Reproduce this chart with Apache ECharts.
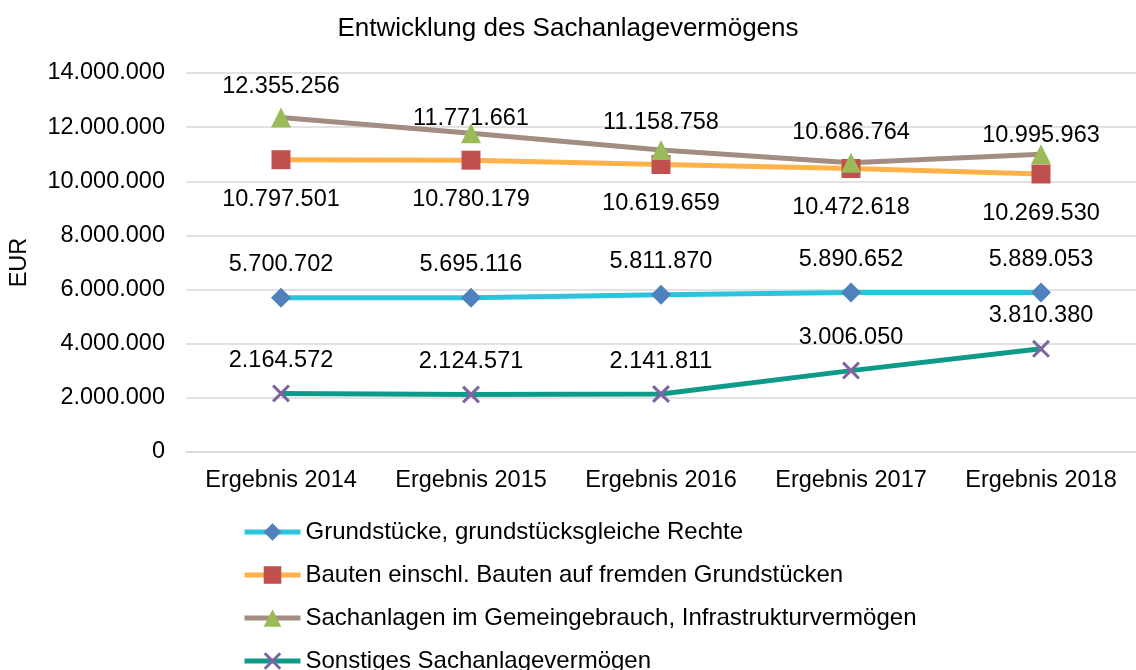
<!DOCTYPE html>
<html>
<head>
<meta charset="utf-8">
<script src="https://cdn.jsdelivr.net/npm/echarts@6/dist/echarts.min.js"></script>
<style>
  html, body { margin: 0; padding: 0; background: #fff; }
  #chart { width: 1136px; height: 670px; }
</style>
</head>
<body>
<div id="chart"></div>
<script>
  const categories = ['Ergebnis 2014', 'Ergebnis 2015', 'Ergebnis 2016', 'Ergebnis 2017', 'Ergebnis 2018']
  const grundstuecke = [5700702, 5695116, 5811870, 5890652, 5889053]
  const bauten = [10797501, 10780179, 10619659, 10472618, 10269530]
  const sachanlagen = [12355256, 11771661, 11158758, 10686764, 10995963]
  const sonstiges = [2164572, 2124571, 2141811, 3006050, 3810380]

  // labels of the grey series were moved by hand in the original, px downwards
  const sachLabelShift = [3, 19, 7, 4, 15]

  const fmt = v => String(Math.round(v)).replace(/\B(?=(\d{3})+(?!\d))/g, '.')
  const font = '"Liberation Sans", Arial, sans-serif'
  const crossPath = 'path://M0,1.2L1.2,0L10,8.8L8.8,10Z M8.8,0L10,1.2L1.2,10L0,8.8Z'

  const mkSeries = (name, data, lineColor, markerColor, symbol, size, pos, dist) => ({
    name,
    type: 'line',
    data,
    symbol,
    symbolSize: size,
    lineStyle: { width: 5, color: lineColor },
    itemStyle: { color: markerColor },
    label: {
      show: true,
      position: pos,
      distance: dist,
      formatter: p => fmt(p.value),
      fontSize: 23.5,
      color: '#000',
      fontFamily: font
    },
    emphasis: { disabled: true }
  })

  const sachData = sachanlagen.map((v, i) => ({ value: v, label: { offset: [0, sachLabelShift[i]] } }))

  const chart = echarts.init(document.getElementById('chart'))
  chart.setOption({
    animation: false,
    textStyle: { fontFamily: font },
    title: {
      text: 'Entwicklung des Sachanlagevermögens',
      left: 'center',
      top: 11,
      textStyle: { fontSize: 26, fontWeight: 'normal', color: '#000', fontFamily: font }
    },
    grid: { left: 183, width: 965, top: 73, bottom: 218 },
    legend: {
      orient: 'vertical',
      left: 242,
      top: 520,
      height: 300,
      padding: 0,
      itemWidth: 56,
      itemHeight: 22,
      itemGap: 19,
      lineStyle: { width: 5 },
      textStyle: { fontSize: 24, color: '#000', fontFamily: font },
      data: [
        'Grundstücke, grundstücksgleiche Rechte',
        'Bauten einschl. Bauten auf fremden Grundstücken',
        'Sachanlagen im Gemeingebrauch, Infrastrukturvermögen',
        'Sonstiges Sachanlagevermögen'
      ]
    },
    xAxis: {
      type: 'category',
      data: categories,
      boundaryGap: true,
      axisLine: { lineStyle: { color: '#D9D9D9', width: 1.5 } },
      axisTick: { show: false },
      axisLabel: { fontSize: 23.5, color: '#000', margin: 17, interval: 0, fontFamily: font }
    },
    yAxis: {
      type: 'value',
      min: 0,
      max: 14000000,
      interval: 2000000,
      name: 'EUR',
      nameLocation: 'middle',
      nameGap: 154,
      nameRotate: 90,
      nameTextStyle: { fontSize: 23.5, color: '#000', fontFamily: font },
      axisLine: { show: false },
      axisTick: { show: false },
      axisLabel: { fontSize: 23.5, color: '#000', margin: 21, formatter: v => fmt(v), fontFamily: font },
      splitLine: { lineStyle: { color: '#D9D9D9', width: 1.5 } }
    },
    series: [
      mkSeries('Grundstücke, grundstücksgleiche Rechte', grundstuecke, '#2BC4DC', '#4F81BD', 'diamond', 20, 'top', 11),
      mkSeries('Bauten einschl. Bauten auf fremden Grundstücken', bauten, '#FFB24A', '#C0504D', 'rect', 19, 'bottom', 18),
      mkSeries('Sachanlagen im Gemeingebrauch, Infrastrukturvermögen', sachData, '#A38C82', '#9BBB59', 'triangle', 20, 'top', 12),
      mkSeries('Sonstiges Sachanlagevermögen', sonstiges, '#0E9A88', '#8064A2', crossPath, 18, 'top', 12)
    ]
  })
</script>
</body>
</html>
